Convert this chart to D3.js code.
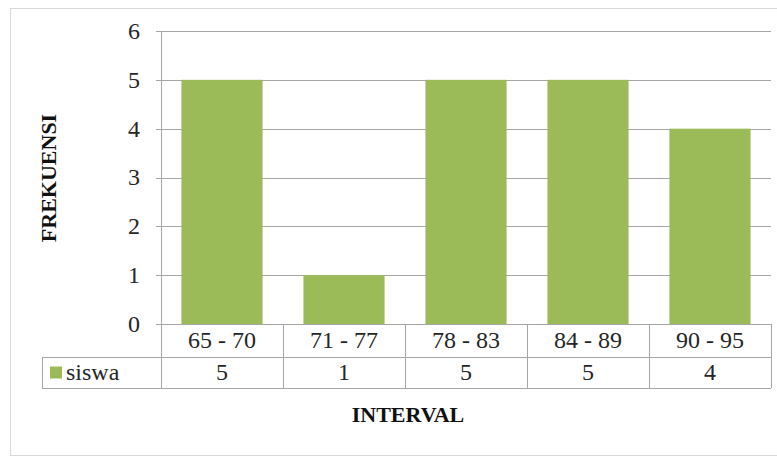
<!DOCTYPE html>
<html>
<head>
<meta charset="utf-8">
<script src="https://cdn.jsdelivr.net/npm/d3@7"></script>
</head>
<body style="margin:0;background:#fff">
<svg id="chart" width="777" height="462" style="display:block"></svg>
<script>
// Frequency distribution of student scores
const categories = ["65 - 70", "71 - 77", "78 - 83", "84 - 89", "90 - 95"];
const siswa = [5, 1, 5, 5, 4];
const yTicks = [0, 1, 2, 3, 4, 5, 6];
const seriesName = "siswa";
const xTitle = "INTERVAL";
const yTitle = "FREKUENSI";

const FONT = '"Liberation Serif"';
const svg = d3.select("#chart");
const plot = { left: 161, right: 771, top: 31, bottom: 324 };
const rowH = [33, 31];
const tableLeft = 42;
const green = "#9bbb59";
const gridColor = "#a6a6a6";
const textColor = "#262626";
const fs = 24;

// Outer chart frame
svg.append("rect")
  .attr("x", 10.5).attr("y", 8.5)
  .attr("width", 800).attr("height", 447)
  .attr("fill", "#fff").attr("stroke", "#d9d9d9").attr("stroke-width", 1);

const x = d3.scaleBand().domain(categories).range([plot.left, plot.right]).paddingInner(0).paddingOuter(0);
const y = d3.scaleLinear().domain([0, 6]).range([plot.bottom, plot.top]);

// Horizontal gridlines with small tick marks left of the axis
svg.append("g").selectAll("line").data(yTicks).join("line")
  .attr("x1", plot.left - 5).attr("x2", plot.right)
  .attr("y1", d => Math.round(y(d)) + 0.5).attr("y2", d => Math.round(y(d)) + 0.5)
  .attr("stroke", gridColor).attr("stroke-width", 1);

// Vertical axis line
svg.append("line")
  .attr("x1", plot.left + 0.5).attr("x2", plot.left + 0.5)
  .attr("y1", plot.top).attr("y2", plot.bottom)
  .attr("stroke", gridColor);

// Y tick labels
svg.append("g").selectAll("text").data(yTicks).join("text")
  .attr("x", 134).attr("y", d => y(d))
  .attr("dy", "0.33em").attr("text-anchor", "middle")
  .attr("fill", textColor)
  .style("font-family", FONT).style("font-size", fs + "px")
  .text(d => d);

// Bars
const barFrac = 0.665;
svg.append("g").selectAll("rect").data(siswa).join("rect")
  .attr("x", (d, i) => x(categories[i]) + x.bandwidth() * (1 - barFrac) / 2)
  .attr("width", x.bandwidth() * barFrac)
  .attr("y", d => y(d))
  .attr("height", d => y(0) - y(d))
  .attr("fill", green);

// Data table below the plot
const t = svg.append("g");
const r1 = plot.bottom, r2 = r1 + rowH[0], r3 = r2 + rowH[1];
[[plot.left, r1], [tableLeft, r2], [tableLeft, r3]].forEach(([x0, yy]) => {
  t.append("line").attr("x1", x0).attr("x2", plot.right)
    .attr("y1", yy + 0.5).attr("y2", yy + 0.5).attr("stroke", gridColor);
});
const vx = categories.map(c => x(c)).concat([plot.right]);
vx.forEach(v => {
  t.append("line").attr("x1", Math.round(v) + 0.5).attr("x2", Math.round(v) + 0.5)
    .attr("y1", r1).attr("y2", r3).attr("stroke", gridColor);
});
t.append("line").attr("x1", tableLeft + 0.5).attr("x2", tableLeft + 0.5)
  .attr("y1", r2).attr("y2", r3).attr("stroke", gridColor);

// category labels
t.selectAll("text.cat").data(categories).join("text")
  .attr("class", "cat")
  .attr("x", d => x(d) + x.bandwidth() / 2)
  .attr("y", (r1 + r2) / 2).attr("dy", "0.33em")
  .attr("text-anchor", "middle").attr("fill", textColor)
  .style("font-family", FONT).style("font-size", fs + "px")
  .text(d => d);

// values row
t.selectAll("text.val").data(siswa).join("text")
  .attr("class", "val")
  .attr("x", (d, i) => x(categories[i]) + x.bandwidth() / 2)
  .attr("y", (r2 + r3) / 2).attr("dy", "0.33em")
  .attr("text-anchor", "middle").attr("fill", textColor)
  .style("font-family", FONT).style("font-size", fs + "px")
  .text(d => d);

// legend key
t.append("rect").attr("x", 50).attr("y", (r2 + r3) / 2 - 6)
  .attr("width", 12).attr("height", 12).attr("fill", green);
t.append("text").attr("x", 66).attr("y", (r2 + r3) / 2).attr("dy", "0.3em")
  .attr("fill", textColor)
  .style("font-family", FONT).style("font-size", fs + "px")
  .text(seriesName);

// Axis titles
svg.append("text")
  .attr("x", 408).attr("y", 414).attr("dy", "0.35em")
  .attr("text-anchor", "middle").attr("font-weight", "bold")
  .attr("fill", "#111")
  .style("font-family", FONT).style("font-size", "22px")
  .text(xTitle);

svg.append("text")
  .attr("transform", "translate(48,178) rotate(-90)")
  .attr("dy", "0.35em")
  .attr("text-anchor", "middle").attr("font-weight", "bold")
  .attr("fill", "#111")
  .style("font-family", FONT).style("font-size", "22px")
  .text(yTitle);
</script>
</body>
</html>
